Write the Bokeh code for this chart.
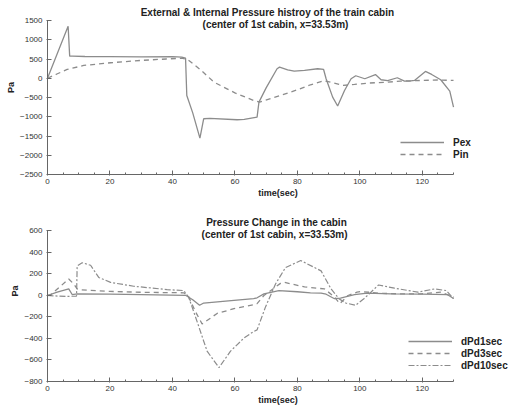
from bokeh.plotting import figure
from bokeh.layouts import column
from bokeh.models import Range1d, FixedTicker, Label, Legend, LegendItem
from bokeh.embed import file_html
from bokeh.resources import INLINE

# ---------------- data (top chart) ----------------
pex_t = [0, 6.6, 7.1, 8, 12, 20, 30, 40, 43, 44.2, 44.6, 46.5, 48.8, 50.0, 52, 60.7, 63, 67.1,
         67.7, 70, 73.5, 74.3, 76.9, 79, 82.3, 86.5, 88.4, 89.2, 91.3, 92.9, 95.1, 97.2, 98.7,
         101.6, 105.0, 106.8, 108.9, 112.0, 114.3, 115.8, 117.5, 121.0, 123.0, 125.9, 128.8, 130]
pex_v = [0, 1353, 574, 575, 565, 560, 555, 560, 550, 520, -450, -900, -1556, -1052, -1040,
         -1078, -1070, -1010, -620, -250, 247, 288, 220, 185, 203, 247, 228, -13, -490, -720,
         -317, -13, 65, -13, 95, -39, -60, 13, -75, -75, -57, 177, 99, -39, -335, -750]

pin_t = [0, 3, 6.3, 11.6, 20.2, 29.8, 38, 43, 45, 49, 53.3, 60, 66, 67.9, 74.6, 80, 84.2, 88.6,
         91.5, 94.5, 98.3, 102.4, 109, 113, 119.7, 125, 130]
pin_v = [0, 110, 229, 332, 403, 462, 500, 520, 480, 220, -101, -380, -577, -620, -447, -300,
         -169, -65, -120, -187, -161, -127, -101, -75, -57, -45, -57]

# ---------------- data (bottom chart) ----------------
d1_t = [0, 3.1, 6.8, 7.9, 9.5, 20, 30, 44.2, 46.5, 48.7, 50, 59.7, 66, 67.1, 69.3, 74.1, 80,
        84.2, 87.6, 89.2, 91.9, 93.8, 98.3, 102.4, 110, 120, 128, 130]
d1_v = [0, 31, 61, 9, 15, 12, 9, 2, -40, -91, -70, -46, -30, -21, 15, 46, 35, 25, 22, 12,
        -30, -25, 9, 22, 15, 12, 9, -28]

d3_t = [0, 1, 6.8, 8.4, 9.5, 10.6, 20, 30, 43.6, 45, 47.4, 49.5, 54.3, 59.7, 66, 67.1, 69.3,
        74.6, 75.9, 82.3, 88.7, 91.9, 93.6, 96.2, 99.1, 100.4, 107, 113, 119.7, 126, 130]
d3_v = [0, 6, 153, 107, 61, 52, 38, 30, 25, 0, -152, -265, -167, -122, -85, -76, 0, 113, 122,
        80, 61, -15, -76, 0, 31, 37, 20, 15, 15, 31, -15]

d10_t = [0, 1, 6.3, 9.3, 9.5, 11.1, 13.8, 16.4, 20.2, 27.6, 38.3, 43.6, 45.2, 47.9, 51.1,
         54.9, 58.6, 62.9, 66, 67.1, 69.8, 73, 76.2, 81.1, 87.6, 90.8, 93.3, 95.5, 98.6, 101.3,
         103, 106, 111.1, 118.6, 123.9, 127.7, 130]
d10_v = [0, -2, -9, -5, 275, 305, 281, 168, 122, 86, 55, 46, -15, -243, -518, -671, -518,
         -396, -335, -320, -106, 107, 260, 325, 229, 61, -30, -70, -91, -30, 15, 98, 68, 31,
         61, 46, -30]

x_ticks = [0, 20, 40, 60, 80, 100, 120]
top_y_ticks = [-2500, -2000, -1500, -1000, -500, 0, 500, 1000, 1500]
bot_y_ticks = [-800, -600, -400, -200, 0, 200, 400, 600]

FONT = "Liberation Sans"
LINE = "#8c8c8c"
AXIS = "#666666"
TXT = "#222222"


def style_axes(p, yticks):
    p.xaxis.ticker = FixedTicker(ticks=x_ticks,
                                 minor_ticks=[v for v in range(0, 131, 5) if v % 20])
    p.yaxis.ticker = FixedTicker(ticks=yticks)
    p.xaxis.bounds = (0, 130)
    p.yaxis.bounds = (yticks[0], yticks[-1])
    for ax in (p.xaxis[0], p.yaxis[0]):
        ax.axis_line_color = AXIS
        ax.axis_line_width = 1
        ax.major_tick_line_color = AXIS
        ax.minor_tick_line_color = AXIS
        ax.major_tick_in = 4
        ax.major_tick_out = 1
        ax.minor_tick_in = 2
        ax.minor_tick_out = 0
        ax.major_label_text_font = FONT
        ax.major_label_text_font_size = "8px"
        ax.major_label_text_color = "#333333"
        ax.axis_label_text_font = FONT
        ax.axis_label_text_font_size = "9px"
        ax.axis_label_text_font_style = "bold"
        ax.axis_label_text_color = TXT
    p.xaxis.major_label_standoff = 3
    p.xaxis.axis_label_standoff = 1
    p.yaxis.major_label_standoff = 4
    p.yaxis.axis_label_standoff = 1
    p.xaxis.axis_label = "time(sec)"
    p.yaxis.axis_label = "Pa"
    p.xgrid.visible = False
    p.ygrid.visible = False
    p.outline_line_color = None


def make_fig(h, yr, bottom):
    # frame spans to the right and top edges so annotations are not clipped;
    # axis bounds keep the visible axes at 0..130 and the given y range
    p = figure(width=508, height=h, output_backend="svg", toolbar_location=None,
               x_range=Range1d(0, 147.6), y_range=Range1d(*yr),
               min_border_left=47, min_border_right=0,
               min_border_top=0, min_border_bottom=bottom)
    p.background_fill_color = "white"
    p.border_fill_color = "white"
    return p


def title_labels(p, lines):
    for (x, y, txt) in lines:
        p.add_layout(Label(x=x, y=y, text=txt, text_font=FONT, text_font_size="10px",
                           text_font_style="bold", text_color=TXT,
                           text_align="center", text_baseline="middle"))


def make_legend(p, items, x, y):
    lg = Legend(items=items, location=(x, y), orientation="vertical",
                border_line_alpha=0, background_fill_alpha=0,
                glyph_width=44, glyph_height=12, label_height=12, spacing=0,
                padding=0, margin=0, label_standoff=9,
                label_text_font=FONT, label_text_font_size="10px",
                label_text_font_style="bold", label_text_color=TXT)
    p.add_layout(lg)


# ---------------- top chart ----------------
p1 = make_fig(200, (-2500, 2019.5), 26)
style_axes(p1, top_y_ticks)
r_pex = p1.line(pex_t, pex_v, line_color=LINE, line_width=1.3)
r_pin = p1.line(pin_t, pin_v, line_color=LINE, line_width=1.3, line_dash="5 4")
title_labels(p1, [(70.4, 1709, "External & Internal Pressure histroy of the train cabin"),
                  (73.0, 1397, "(center of 1st cabin, x=33.53m)")])
make_legend(p1, [LegendItem(label="Pex", renderers=[r_pex]),
                 LegendItem(label="Pin", renderers=[r_pin])], 353, 14)

# ---------------- bottom chart ----------------
p2 = make_fig(207, (-800, 883.7), 23)
style_axes(p2, bot_y_ticks)
r1 = p2.line(d1_t, d1_v, line_color=LINE, line_width=1.3)
r3 = p2.line(d3_t, d3_v, line_color=LINE, line_width=1.3, line_dash="5 4")
r10 = p2.line(d10_t, d10_v, line_color=LINE, line_width=1.2, line_dash="6 2 2 2")
title_labels(p2, [(73.3, 677, "Pressure Change in the cabin"),
                  (72.7, 571, "(center of 1st cabin, x=33.53m)")])
make_legend(p2, [LegendItem(label="dPd1sec", renderers=[r1]),
                 LegendItem(label="dPd3sec", renderers=[r3]),
                 LegendItem(label="dPd10sec", renderers=[r10])], 361, 10)

layout = column(p1, p2, spacing=0)
open("out.html", "w").write(file_html(layout, INLINE))
